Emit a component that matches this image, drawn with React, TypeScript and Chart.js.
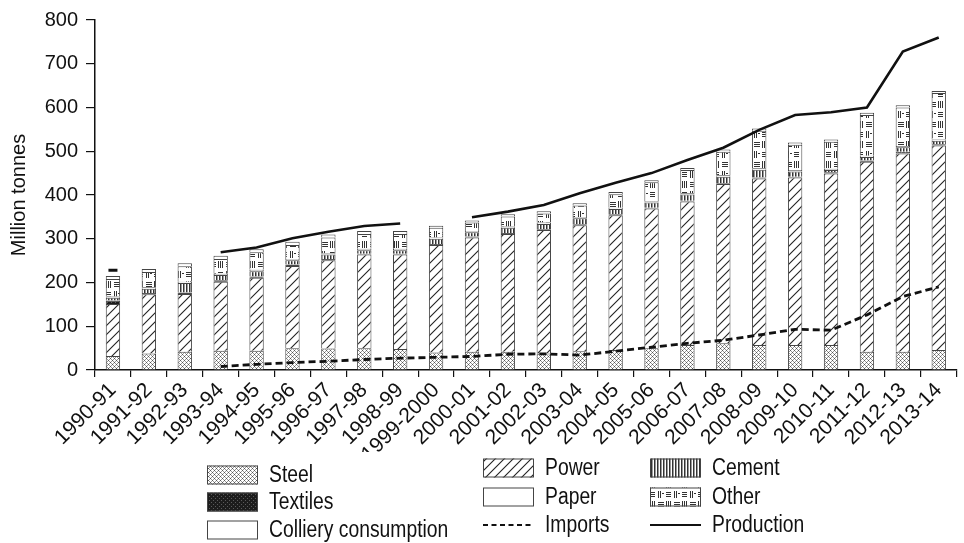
import { useEffect, useRef } from 'react';
import { Chart, registerables } from 'chart.js';

Chart.register(...registerables);

const categories = [
  '1990-91', '1991-92', '1992-93', '1993-94', '1994-95', '1995-96', '1996-97', '1997-98',
  '1998-99', '1999-2000', '2000-01', '2001-02', '2002-03', '2003-04', '2004-05', '2005-06',
  '2006-07', '2007-08', '2008-09', '2009-10', '2010-11', '2011-12', '2012-13', '2013-14',
];

const steel = [32, 38, 42, 44, 44, 50, 49, 50, 48, 40, 42, 42, 38, 43, 46, 50, 57, 61, 57, 57, 57, 42, 42, 46];
const power = [119, 135, 132, 158, 167, 188, 202, 214, 216, 246, 261, 269, 282, 288, 308, 319, 328, 364, 381, 383, 392, 434, 453, 467];
const textiles = [8, 3, 3, 3, 3, 3, 3, 2, 2, 2, 2, 2, 2, 2, 2, 2, 2, 2, 2, 2, 3, 3, 4, 3];
const cement = [6, 10, 22, 12, 12, 10, 10, 8, 8, 12, 10, 12, 12, 14, 12, 12, 14, 15, 18, 12, 5, 8, 10, 8];
const paper = [3, 3, 3, 3, 3, 3, 3, 3, 3, 3, 3, 3, 3, 3, 3, 3, 3, 3, 3, 3, 3, 3, 3, 3];
const other = [40, 35, 35, 34, 40, 32, 36, 34, 34, 22, 19, 23, 21, 26, 31, 43, 53, 54, 86, 58, 62, 93, 88, 106];
const colliery = [7, 7, 7, 7, 7, 7, 7, 7, 7, 5, 5, 5, 5, 5, 5, 5, 5, 5, 5, 5, 5, 5, 5, 5];

const imports = [null, null, null, 8, 13, 17, 20, 24, 27, 29, 31, 36, 37, 34, 43, 52, 61, 68, 80, 93, 91, 126, 168, 190];
const production = [228, null, null, 269, 280, 301, 316, 329, 335, null, 349, 362, 377, 404, 428, 450, 480, 508, 549, 583, 589, 600, 728, 760];

const yTicks = [0, 100, 200, 300, 400, 500, 600, 700, 800];

const legendLabels = [
  ['Steel', 'Textiles', 'Colliery consumption'],
  ['Power', 'Paper', 'Imports'],
  ['Cement', 'Other', 'Production'],
];
const legendKinds = [
  ['steel', 'textiles', 'blank'],
  ['power', 'blank', 'dash'],
  ['cement', 'other', 'line'],
];

const FONT = '"Liberation Sans", Arial, sans-serif';

function makePattern(kind: string): CanvasPattern | string {
  const c = document.createElement('canvas');
  const g = c.getContext('2d')!;
  if (kind === 'steel') {
    c.width = 4; c.height = 4;
    g.fillStyle = '#fff'; g.fillRect(0, 0, 4, 4);
    g.fillStyle = '#555';
    g.fillRect(0, 0, 1, 1); g.fillRect(2, 2, 1, 1);
    g.fillStyle = '#999';
    g.fillRect(1, 1, 1, 1); g.fillRect(3, 3, 1, 1); g.fillRect(3, 1, 1, 1); g.fillRect(1, 3, 1, 1);
  } else if (kind === 'textiles') {
    c.width = 4; c.height = 4;
    g.fillStyle = '#1c1c1c'; g.fillRect(0, 0, 4, 4);
    g.fillStyle = '#5a5a5a';
    g.fillRect(1, 0, 1, 1); g.fillRect(3, 2, 1, 1);
  } else if (kind === 'power') {
    c.width = 9; c.height = 9;
    g.fillStyle = '#fff'; g.fillRect(0, 0, 9, 9);
    g.strokeStyle = '#222'; g.lineWidth = 1.1;
    g.beginPath();
    g.moveTo(-1, 10); g.lineTo(10, -1);
    g.moveTo(-1, 1); g.lineTo(1, -1);
    g.moveTo(8, 10); g.lineTo(10, 8);
    g.stroke();
  } else if (kind === 'cement') {
    c.width = 3; c.height = 3;
    g.fillStyle = '#fff'; g.fillRect(0, 0, 3, 3);
    g.fillStyle = '#333'; g.fillRect(0, 0, 1, 3);
    g.fillStyle = '#999'; g.fillRect(1, 0, 1, 3);
  } else if (kind === 'other') {
    c.width = 16; c.height = 20;
    g.fillStyle = '#fff'; g.fillRect(0, 0, 16, 20);
    g.fillStyle = '#333';
    for (let i = 0; i < 3; i++) g.fillRect(2, 2 + i * 2, 6, 1);
    for (let i = 0; i < 3; i++) g.fillRect(10 + i * 2, 1, 1, 7);
    for (let i = 0; i < 3; i++) g.fillRect(10, 12 + i * 2, 5, 1);
    for (let i = 0; i < 2; i++) g.fillRect(2 + i * 2, 11, 1, 7);
    g.fillRect(6, 13, 2, 1);
  } else {
    return '#ffffff';
  }
  return g.createPattern(c, 'repeat')!;
}

const legendPlugin = {
  id: 'gridLegend',
  afterDraw(chart: any) {
    const ctx: CanvasRenderingContext2D = chart.ctx;
    const colX = [207, 483, 650];
    const rowY = [
      [475, 502, 530],
      [468, 497, 525],
      [468, 497, 525],
    ];
    const boxW = 51;
    const boxH = 19;
    ctx.save();
    for (let c = 0; c < 3; c++) {
      for (let r = 0; r < 3; r++) {
        const kind = legendKinds[c][r];
        const x = colX[c];
        const y = rowY[c][r];
        if (kind === 'dash' || kind === 'line') {
          ctx.beginPath();
          ctx.strokeStyle = '#111';
          ctx.lineWidth = 2.2;
          ctx.setLineDash(kind === 'dash' ? [5, 3.5] : []);
          ctx.moveTo(x, y);
          ctx.lineTo(x + boxW, y);
          ctx.stroke();
          ctx.setLineDash([]);
        } else {
          ctx.fillStyle = makePattern(kind) as any;
          ctx.fillRect(x, y - boxH / 2, boxW, boxH);
          ctx.strokeStyle = '#444';
          ctx.lineWidth = 1;
          ctx.strokeRect(x + 0.5, y - boxH / 2 + 0.5, boxW - 1, boxH - 1);
        }
        ctx.save();
        ctx.translate(x + boxW + 11, y + 1);
        ctx.scale(0.84, 1);
        ctx.fillStyle = '#111';
        ctx.font = `23px ${FONT}`;
        ctx.textBaseline = 'middle';
        ctx.textAlign = 'left';
        ctx.fillText(legendLabels[c][r], 0, 0);
        ctx.restore();
      }
    }
    ctx.restore();
  },
};

export default function App() {
  const ref = useRef<HTMLCanvasElement>(null);

  useEffect(() => {
    const canvas = ref.current!;
    const barBase = {
      type: 'bar' as const,
      stack: 'bars',
      borderColor: '#444',
      borderWidth: 1,
      barPercentage: 0.4,
      categoryPercentage: 1,
      order: 2,
    };
    const chart = new Chart(canvas, {
      type: 'bar',
      data: {
        labels: categories,
        datasets: [
          { ...barBase, label: 'Steel', data: steel, backgroundColor: makePattern('steel') as any },
          { ...barBase, label: 'Power', data: power, backgroundColor: makePattern('power') as any },
          { ...barBase, label: 'Textiles', data: textiles, backgroundColor: makePattern('textiles') as any },
          { ...barBase, label: 'Cement', data: cement, backgroundColor: makePattern('cement') as any },
          { ...barBase, label: 'Paper', data: paper, backgroundColor: '#fff' },
          { ...barBase, label: 'Other', data: other, backgroundColor: makePattern('other') as any },
          { ...barBase, label: 'Colliery consumption', data: colliery, backgroundColor: '#fff' },
          {
            type: 'line' as const,
            label: 'Imports',
            data: imports as any,
            stack: 'imports',
            borderColor: '#111',
            borderWidth: 2.8,
            borderDash: [7, 4],
            pointRadius: 0,
            spanGaps: false,
            fill: false,
            order: 1,
          } as any,
          {
            type: 'line' as const,
            label: 'Production',
            data: production as any,
            stack: 'production',
            borderColor: '#111',
            borderWidth: 2.6,
            pointStyle: 'line',
            pointRadius: (ctx: any) => (ctx.dataIndex === 0 ? 4.5 : 0),
            pointBorderWidth: 2.8,
            pointBorderColor: '#111',
            spanGaps: false,
            fill: false,
            order: 0,
          } as any,
        ],
      },
      options: {
        responsive: false,
        animation: false,
        events: [],
        layout: { padding: { top: 20, right: 0, bottom: 91, left: 0 } },
        plugins: {
          legend: { display: false },
          tooltip: { enabled: false },
        },
        scales: {
          x: {
            stacked: true,
            offset: true,
            grid: {
              offset: true,
              drawOnChartArea: false,
              drawTicks: true,
              tickLength: 7,
              color: '#111',
              lineWidth: 1.2,
            },
            border: { display: true, color: '#111', width: 1.5 },
            ticks: {
              color: '#111',
              autoSkip: false,
              minRotation: 45,
              maxRotation: 45,
              padding: 1,
              font: { family: FONT, size: 21 },
            },
            afterFit: (scale: any) => { scale.height = 82; },
          },
          y: {
            stacked: true,
            min: 0,
            max: 800,
            afterBuildTicks: (scale: any) => { scale.ticks = yTicks.map((v) => ({ value: v })); },
            grid: {
              drawOnChartArea: false,
              drawTicks: true,
              tickLength: 9,
              color: '#111',
              lineWidth: 1.2,
            },
            border: { display: true, color: '#111', width: 1.5 },
            ticks: {
              color: '#111',
              padding: 8,
              font: { family: FONT, size: 20 },
            },
            title: {
              display: true,
              text: 'Million tonnes',
              color: '#111',
              padding: { top: 7, bottom: 0 },
              font: { family: FONT, size: 20 },
            },
            afterFit: (scale: any) => { scale.width = 95; },
          },
        },
      },
      plugins: [legendPlugin],
    });
    return () => chart.destroy();
  }, []);

  return (
    <div style={{ position: 'absolute', left: 0, top: 0, width: 964, height: 543, background: '#fff' }}>
      <canvas ref={ref} width={964} height={543} style={{ width: 964, height: 543, display: 'block' }} />
    </div>
  );
}
